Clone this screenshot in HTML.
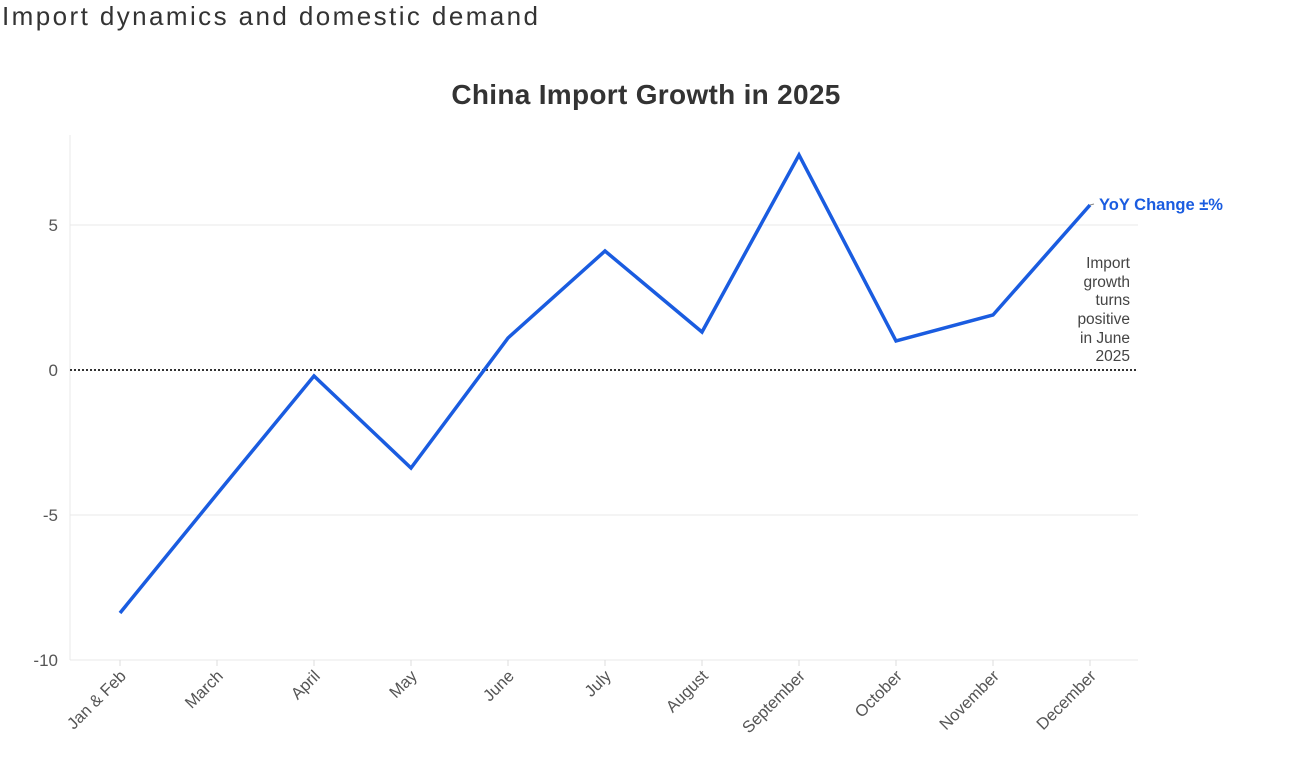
<!DOCTYPE html>
<html><head><meta charset="utf-8"><style>
html,body{margin:0;padding:0;background:#fff;width:1300px;height:757px;overflow:hidden}
svg{display:block;font-family:"Liberation Sans",sans-serif}
</style></head><body>
<svg width="1300" height="757" xmlns="http://www.w3.org/2000/svg">
<text x="2" y="25" font-size="26" fill="#333" textLength="536" lengthAdjust="spacing">Import dynamics and domestic demand</text>
<text x="646" y="104" font-size="28" font-weight="bold" fill="#333" text-anchor="middle" letter-spacing="0.3">China Import Growth in 2025</text>
<g stroke="#e8e8e8" stroke-width="1">
<line x1="70" y1="225" x2="1138" y2="225"/>
<line x1="70" y1="515" x2="1138" y2="515"/>
<line x1="70" y1="660" x2="1138" y2="660"/>
<line x1="70" y1="135" x2="70" y2="660"/>
</g>
<g stroke="#ddd" stroke-width="1">
<line x1="120" y1="660" x2="120" y2="666"/><line x1="217" y1="660" x2="217" y2="666"/><line x1="314" y1="660" x2="314" y2="666"/><line x1="411" y1="660" x2="411" y2="666"/><line x1="508" y1="660" x2="508" y2="666"/><line x1="605" y1="660" x2="605" y2="666"/><line x1="702" y1="660" x2="702" y2="666"/><line x1="799" y1="660" x2="799" y2="666"/><line x1="896" y1="660" x2="896" y2="666"/><line x1="993" y1="660" x2="993" y2="666"/><line x1="1090" y1="660" x2="1090" y2="666"/>
</g>
<line x1="70" y1="370" x2="1138" y2="370" stroke="#333" stroke-width="2" stroke-dasharray="2,2"/>
<g font-size="17" fill="#555" text-anchor="end">
<text x="58" y="231">5</text><text x="58" y="376">0</text><text x="58" y="521">-5</text><text x="58" y="666">-10</text>
</g>
<g font-size="16.5" fill="#555" text-anchor="end">
<text transform="translate(127,677) rotate(-45)">Jan &amp; Feb</text>
<text transform="translate(224,677) rotate(-45)">March</text>
<text transform="translate(321,677) rotate(-45)">April</text>
<text transform="translate(418,677) rotate(-45)">May</text>
<text transform="translate(515,677) rotate(-45)">June</text>
<text transform="translate(612,677) rotate(-45)">July</text>
<text transform="translate(709,677) rotate(-45)">August</text>
<text transform="translate(806,677) rotate(-45)">September</text>
<text transform="translate(903,677) rotate(-45)">October</text>
<text transform="translate(1000,677) rotate(-45)">November</text>
<text transform="translate(1097,677) rotate(-45)">December</text>
</g>
<polyline fill="none" stroke="#1a5ce0" stroke-width="3.5" stroke-linejoin="miter" points="120,613 217,494 314,376 411,468 508,338 605,251 702,332 799,155 896,341 993,315 1090,205"/>
<line x1="1090" y1="205" x2="1094" y2="204" stroke="#888" stroke-width="1"/>
<text x="1099" y="210" font-size="16.5" font-weight="bold" fill="#1a5ce0">YoY Change ±%</text>
<g font-size="15.5" fill="#444" text-anchor="end">
<text x="1130" y="268">Import</text><text x="1130" y="287">growth</text><text x="1130" y="305">turns</text><text x="1130" y="324">positive</text><text x="1130" y="343">in June</text><text x="1130" y="361">2025</text>
</g>
</svg>
</body></html>
